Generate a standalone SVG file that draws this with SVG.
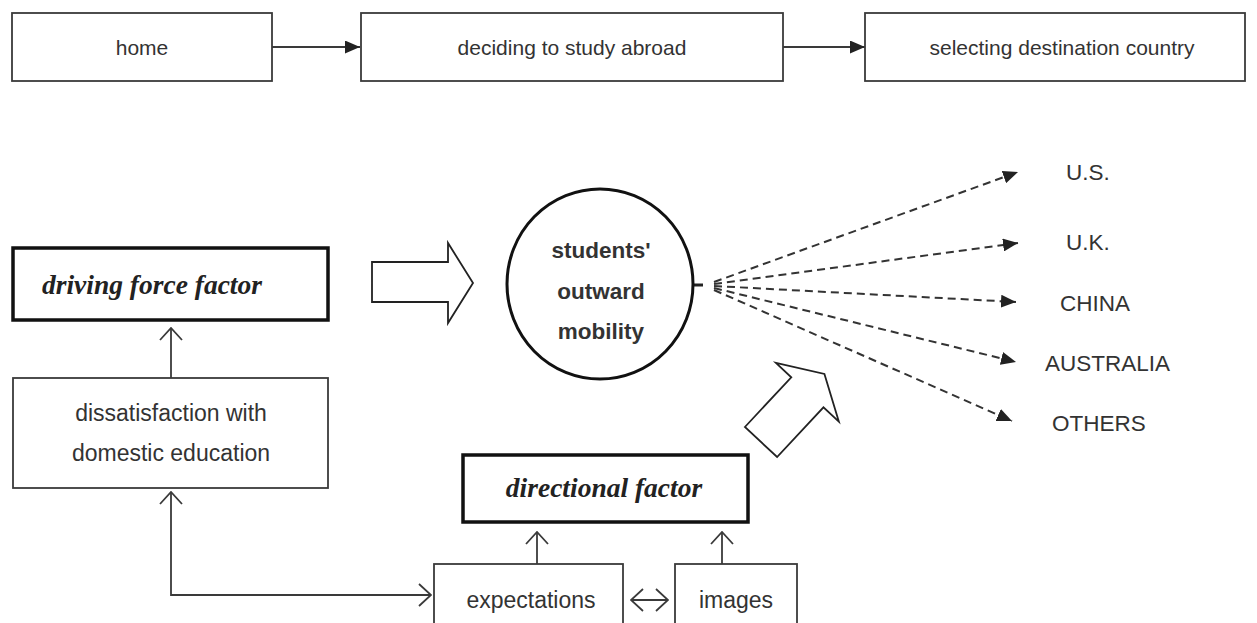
<svg xmlns="http://www.w3.org/2000/svg" width="1257" height="623" viewBox="0 0 1257 623">
<defs>
<style>
.box{fill:#fff;stroke:#3a3a3a;stroke-width:1.8}
.thick{fill:#fff;stroke:#111;stroke-width:3.5}
.blk{fill:#fff;stroke:#222;stroke-width:1.8;stroke-linejoin:miter}
.t{font-family:"Liberation Sans",Arial,sans-serif;font-size:21px;fill:#333;text-anchor:middle}
.t2{font-family:"Liberation Sans",Arial,sans-serif;font-size:23px;fill:#333;text-anchor:middle}
.tl{font-family:"Liberation Sans",Arial,sans-serif;font-size:22.5px;fill:#333}
.ti{font-family:"Liberation Serif","Times New Roman",serif;font-style:italic;font-weight:bold;font-size:27.5px;fill:#222}
.tb{font-family:"Liberation Sans",Arial,sans-serif;font-weight:bold;font-size:22.5px;fill:#333;text-anchor:middle}
.ln{fill:none;stroke:#3a3a3a;stroke-width:1.8}
.dash{fill:none;stroke:#333;stroke-width:2;stroke-dasharray:8 5}
</style>
<marker id="fill" viewBox="0 0 15 13" refX="15" refY="6.5" markerWidth="15" markerHeight="13" markerUnits="userSpaceOnUse" orient="auto">
<path d="M0,0 L15,6.5 L0,13 Z" fill="#222"/>
</marker>
<marker id="open" viewBox="0 0 14 24" refX="13" refY="12" markerWidth="14" markerHeight="24" markerUnits="userSpaceOnUse" orient="auto-start-reverse">
<path d="M1,1 L13,12 L1,23" fill="none" stroke="#3a3a3a" stroke-width="1.8"/>
</marker>
</defs>

<g id="connectors">
<path class="ln" d="M272,47 H360" marker-end="url(#fill)"/>
<path class="ln" d="M783,47 H865" marker-end="url(#fill)"/>
<path class="ln" d="M171,378 V328" marker-end="url(#open)"/>
<path class="ln" d="M171,492 V595 H431" marker-start="url(#open)" marker-end="url(#open)"/>
<path class="ln" d="M537,564 V532" marker-end="url(#open)"/>
<path class="ln" d="M722,564 V532" marker-end="url(#open)"/>
<path class="ln" d="M631,600 H668" marker-start="url(#open)" marker-end="url(#open)"/>
<path d="M693,285 H703" fill="none" stroke="#222" stroke-width="3"/>
<path class="dash" d="M714,282 L1018,172" marker-end="url(#fill)"/>
<path class="dash" d="M714,284 L1018,243" marker-end="url(#fill)"/>
<path class="dash" d="M714,286 L1016,302" marker-end="url(#fill)"/>
<path class="dash" d="M714,288 L1016,362" marker-end="url(#fill)"/>
<path class="dash" d="M714,290 L1012,421" marker-end="url(#fill)"/>
<polygon class="blk" points="372,262 448,262 448,243 473,283 448,323 448,302 372,302"/>
<polygon class="blk" transform="translate(761,442) rotate(-47)" points="0,-22 68,-22 68,-43 93,0 68,43 68,22 0,22"/>
</g>

<g id="home">
<rect class="box" x="12" y="13" width="260" height="68"/>
<text class="t" x="142" y="55">home</text>
</g>
<g id="deciding">
<rect class="box" x="361" y="13" width="422" height="68"/>
<text class="t" x="572" y="55">deciding to study abroad</text>
</g>
<g id="selecting">
<rect class="box" x="865" y="13" width="380" height="68"/>
<text class="t" x="1062" y="55">selecting destination country</text>
</g>

<g id="driving">
<rect class="thick" x="13" y="248" width="315" height="72"/>
<text class="ti" x="42" y="294">driving force factor</text>
</g>
<g id="dissatisfaction">
<rect class="box" x="13" y="378" width="315" height="110"/>
<text class="t2" x="171" y="421">dissatisfaction with</text>
<text class="t2" x="171" y="461">domestic education</text>
</g>

<g id="mobility">
<ellipse cx="600" cy="284" rx="93" ry="95" fill="#fff" stroke="#111" stroke-width="3"/>
<text class="tb" x="601" y="258">students'</text>
<text class="tb" x="601" y="299">outward</text>
<text class="tb" x="601" y="339">mobility</text>
</g>

<g id="us"><text class="tl" x="1066" y="180">U.S.</text></g>
<g id="uk"><text class="tl" x="1066" y="250">U.K.</text></g>
<g id="china"><text class="tl" x="1060" y="311">CHINA</text></g>
<g id="australia"><text class="tl" x="1045" y="371">AUSTRALIA</text></g>
<g id="others"><text class="tl" x="1052" y="431">OTHERS</text></g>

<g id="directional">
<rect class="thick" x="463" y="455" width="285" height="67"/>
<text class="ti" x="604" y="497" text-anchor="middle">directional factor</text>
</g>
<g id="expectations">
<rect class="box" x="434" y="564" width="189" height="70"/>
<text class="t2" x="531" y="608">expectations</text>
</g>
<g id="images">
<rect class="box" x="675" y="564" width="122" height="70"/>
<text class="t2" x="736" y="608">images</text>
</g>
</svg>
